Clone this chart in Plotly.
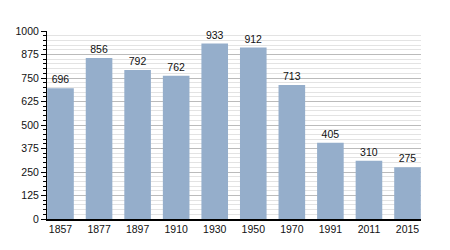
import plotly.graph_objects as go

years = ["1857", "1877", "1897", "1910", "1930", "1950", "1970", "1991", "2011", "2015"]
population = [696, 856, 792, 762, 933, 912, 713, 405, 310, 275]
y_ticks = [0, 125, 250, 375, 500, 625, 750, 875, 1000]

fig = go.Figure(go.Bar(
    x=years, y=population,
    marker=dict(color="#95aecb", line=dict(width=0)),
    width=0.69,
    text=[str(v) for v in population],
    textposition="outside",
    textfont=dict(family="Liberation Sans, Arial", size=10.5, color="#111"),
    cliponaxis=False,
))

fig.update_layout(
    width=450, height=250,
    margin=dict(l=47, r=29, t=31, b=31),
    paper_bgcolor="white", plot_bgcolor="white",
    showlegend=False,
    font=dict(family="Liberation Sans, Arial", size=10.5, color="#111"),
)
fig.update_xaxes(
    type="category",
    range=[-0.35, 9.35],
    showline=True, linecolor="black", linewidth=1.5,
    ticks="", showgrid=False,
    tickfont=dict(size=10.5),
)
fig.update_yaxes(
    range=[0, 1000],
    tickvals=y_ticks,
    showline=True, linecolor="black", linewidth=1,
    ticks="outside", ticklen=5, tickcolor="black",
    showgrid=True, gridcolor="#bbbbbb", gridwidth=1,
    minor=dict(dtick=25, tick0=0, ticks="outside", ticklen=3, tickcolor="black",
               showgrid=True, gridcolor="#e3e3e3", gridwidth=1),
    zeroline=False,
    tickfont=dict(size=10.5),
)

fig.write_html("out.html")
